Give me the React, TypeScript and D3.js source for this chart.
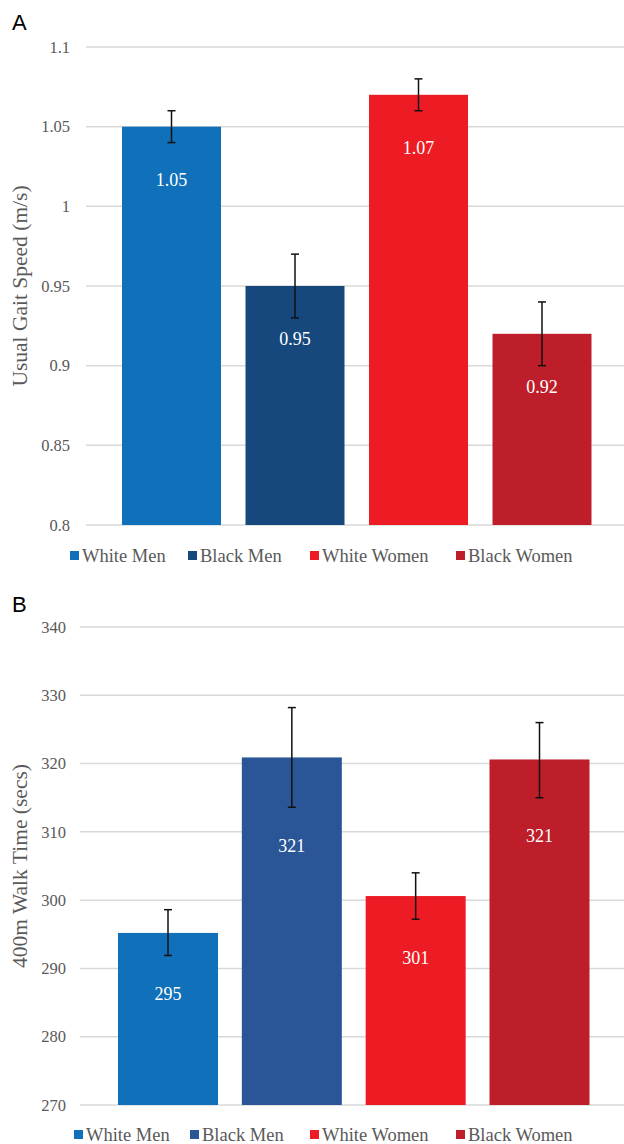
import React from "react";
import * as d3 from "d3";

const categories = ["White Men", "Black Men", "White Women", "Black Women"];

const gaitValues = [1.05, 0.95, 1.07, 0.92];
const gaitLow = [1.04, 0.93, 1.06, 0.90];
const gaitHigh = [1.06, 0.97, 1.08, 0.94];
const gaitLabels = ["1.05", "0.95", "1.07", "0.92"];
const gaitTicks = [0.8, 0.85, 0.9, 0.95, 1.0, 1.05, 1.1];
const gaitTickLabels = ["0.8", "0.85", "0.9", "0.95", "1", "1.05", "1.1"];
const gaitColors = ["#1170ba", "#17487d", "#ed1c24", "#be1e2a"];

const walkValues = [295.2, 320.9, 300.6, 320.6];
const walkLow = [291.9, 313.6, 297.2, 315.0];
const walkHigh = [298.6, 328.2, 304.0, 326.0];
const walkLabels = ["295", "321", "301", "321"];
const walkTicks = [270, 280, 290, 300, 310, 320, 330, 340];
const walkColors = ["#1170ba", "#2a5697", "#ed1c24", "#be1e2a"];

const serif = "'Liberation Serif', 'Times New Roman', serif";
const sans = "'Liberation Sans', Arial, sans-serif";

type PanelProps = {
  letter: string;
  letterY: number;
  title: string;
  titleY: number;
  domain: [number, number];
  yRange: [number, number];
  ticks: number[];
  tickLabels: string[];
  tickRight: number;
  gridLeft: number;
  xRange: [number, number];
  barWidth: number;
  values: number[];
  low: number[];
  high: number[];
  labels: string[];
  colors: string[];
  labelMode: "top" | "err";
  legendY: number;
  legendX: number[];
};

function Panel(p: PanelProps) {
  const y = d3.scaleLinear().domain(p.domain).range(p.yRange);
  const x = d3.scalePoint<string>().domain(categories).range(p.xRange);
  const base = y(p.domain[0]);
  return (
    <g>
      <text x={12} y={p.letterY} fontFamily={sans} fontSize={22} fill="#000">
        {p.letter}
      </text>
      {p.ticks.map((t, i) => (
        <g key={"t" + i}>
          <line x1={p.gridLeft} x2={624} y1={y(t)} y2={y(t)} stroke="#d9d9d9" strokeWidth={1.5} />
          <text
            x={p.tickRight}
            y={y(t)}
            dy="0.35em"
            textAnchor="end"
            fontFamily={serif}
            fontSize={16.5}
            fill="#595959"
          >
            {p.tickLabels[i]}
          </text>
        </g>
      ))}
      <text
        transform={`translate(27,${p.titleY}) rotate(-90)`}
        textAnchor="middle"
        fontFamily={serif}
        fontSize={21.5}
        fill="#595959"
      >
        {p.title}
      </text>
      {categories.map((c, i) => {
        const cx = x(c) as number;
        const top = y(p.values[i]);
        const ly = p.labelMode === "top" ? top + 53 : y(p.low[i]) + 38;
        return (
          <g key={c}>
            <rect x={cx - p.barWidth / 2} y={top} width={p.barWidth} height={base - top} fill={p.colors[i]} />
            <line x1={cx} x2={cx} y1={y(p.high[i])} y2={y(p.low[i])} stroke="#111" strokeWidth={1.5} />
            <line x1={cx - 4} x2={cx + 4} y1={y(p.high[i])} y2={y(p.high[i])} stroke="#111" strokeWidth={1.5} />
            <line x1={cx - 4} x2={cx + 4} y1={y(p.low[i])} y2={y(p.low[i])} stroke="#111" strokeWidth={1.5} />
            <text x={cx} y={ly} dy="0.35em" textAnchor="middle" fontFamily={serif} fontSize={18} fill="#fff">
              {p.labels[i]}
            </text>
          </g>
        );
      })}
      {categories.map((c, i) => (
        <g key={"l" + c}>
          <rect x={p.legendX[i]} y={p.legendY - 5} width={9} height={9} fill={p.colors[i]} />
          <text x={p.legendX[i] + 12} y={p.legendY} dy="0.35em" fontFamily={serif} fontSize={18.5} fill="#595959">
            {c}
          </text>
        </g>
      ))}
    </g>
  );
}

export default function App() {
  return (
    <svg
      width={624}
      height={1144}
      style={{ position: "absolute", left: 0, top: 0, background: "#fff" }}
    >
      <rect width={624} height={1144} fill="#fff" />
      <Panel
        letter="A"
        letterY={30}
        title="Usual Gait Speed (m/s)"
        titleY={286}
        domain={[0.8, 1.1]}
        yRange={[525, 47]}
        ticks={gaitTicks}
        tickLabels={gaitTickLabels}
        tickRight={70}
        gridLeft={86}
        xRange={[171.5, 542]}
        barWidth={99}
        values={gaitValues}
        low={gaitLow}
        high={gaitHigh}
        labels={gaitLabels}
        colors={gaitColors}
        labelMode="top"
        legendY={556}
        legendX={[70, 188, 310, 456]}
      />
      <Panel
        letter="B"
        letterY={612}
        title="400m Walk Time (secs)"
        titleY={866}
        domain={[270, 340]}
        yRange={[1105, 627]}
        ticks={walkTicks}
        tickLabels={walkTicks.map(String)}
        tickRight={66}
        gridLeft={80}
        xRange={[168, 539.5]}
        barWidth={100}
        values={walkValues}
        low={walkLow}
        high={walkHigh}
        labels={walkLabels}
        colors={walkColors}
        labelMode="err"
        legendY={1135}
        legendX={[74, 190, 310, 456]}
      />
    </svg>
  );
}
